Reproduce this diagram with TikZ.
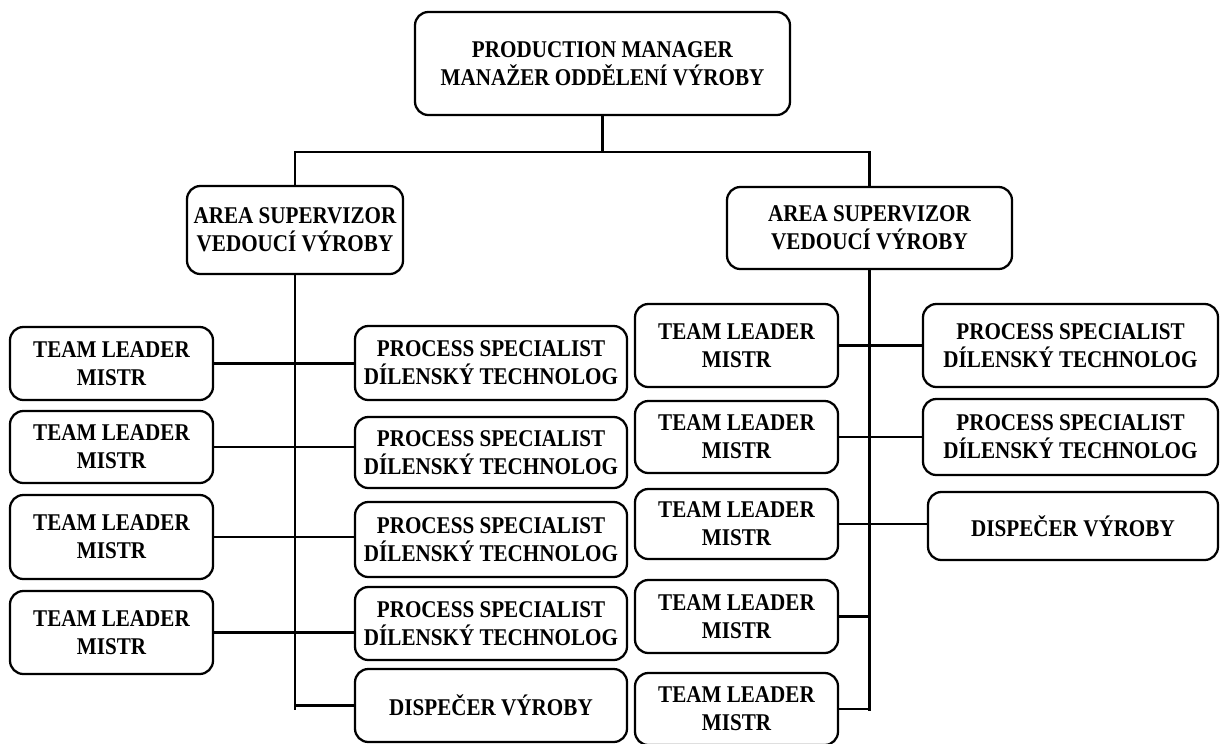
\documentclass[tikz,border=0pt]{standalone}
\usepackage{fontspec}
\setmainfont[FakeStretch=0.88]{Liberation Serif}

\tikzset{
  box/.style={draw, line width=1.7pt, rounded corners=10pt, align=center,
    inner sep=0pt, font=\fontsize{18}{20.8}\selectfont\bfseries},
  leader/.style={box, minimum width=152.25pt},
  specialist/.style={box, minimum width=204pt},
  conn/.style={line width=1.6pt}
}

\begin{document}
\begin{tikzpicture}
  [x=0.75pt, y=-0.75pt]
  \useasboundingbox (0,0) rectangle (1221,743);

	% top and area supervisors
	\node [box, minimum width=281.25pt, minimum height=77.25pt] (top) at (602.5,63.5)
		{PRODUCTION MANAGER\\MANAŽER ODDĚLENÍ VÝROBY};
	\node [box, minimum width=162pt, minimum height=66pt] (as1) at (295,230)
		{AREA SUPERVIZOR\\VEDOUCÍ VÝROBY};
	\node [box, minimum width=213.75pt, minimum height=61.5pt] (as2) at (869.5,228)
		{AREA SUPERVIZOR\\VEDOUCÍ VÝROBY};

	% left branch
	\node [leader, minimum height=54.75pt] (tlL1) at (111.5,363.5) {TEAM LEADER\\MISTR};
	\node [leader, minimum height=54pt] (tlL2) at (111.5,447) {TEAM LEADER\\MISTR};
	\node [leader, minimum height=63pt] (tlL3) at (111.5,537) {TEAM LEADER\\MISTR};
	\node [leader, minimum height=62.25pt] (tlL4) at (111.5,632.5) {TEAM LEADER\\MISTR};

	\node [specialist, minimum height=55.5pt] (psL1) at (491,363) {PROCESS SPECIALIST\\DÍLENSKÝ TECHNOLOG};
	\node [specialist, minimum height=53.25pt] (psL2) at (491,452.5) {PROCESS SPECIALIST\\DÍLENSKÝ TECHNOLOG};
	\node [specialist, minimum height=56.25pt] (psL3) at (491,539.5) {PROCESS SPECIALIST\\DÍLENSKÝ TECHNOLOG};
	\node [specialist, minimum height=54.75pt] (psL4) at (491,623.5) {PROCESS SPECIALIST\\DÍLENSKÝ TECHNOLOG};
	\node [specialist, minimum height=54.75pt] (dispL) at (491,705.5) {DISPEČER VÝROBY};

	% right branch
	\node [leader, minimum height=62.25pt] (tlR1) at (736.5,345.5) {TEAM LEADER\\MISTR};
	\node [leader, minimum height=54pt] (tlR2) at (736.5,437) {TEAM LEADER\\MISTR};
	\node [leader, minimum height=52.5pt] (tlR3) at (736.5,524) {TEAM LEADER\\MISTR};
	\node [leader, minimum height=54.75pt] (tlR4) at (736.5,616.5) {TEAM LEADER\\MISTR};
	\node [leader, minimum height=54pt] (tlR5) at (736.5,709) {TEAM LEADER\\MISTR};

	\node [box, minimum width=221.25pt, minimum height=62.25pt] (psR1) at (1070.5,345.5) {PROCESS SPECIALIST\\DÍLENSKÝ TECHNOLOG};
	\node [box, minimum width=221.25pt, minimum height=57pt] (psR2) at (1070.5,437) {PROCESS SPECIALIST\\DÍLENSKÝ TECHNOLOG};
	\node [box, minimum width=217.5pt, minimum height=51pt] (dispR) at (1073,526) {DISPEČER VÝROBY};

	% connectors
	\coordinate (bar) at (0,152);
	\coordinate (spineL) at (295,710);
	\coordinate (spineR) at (869.5,711);

	\draw [conn] (top.south) -- (top.south |- bar);
	\draw [conn] (as1.north) -- (as1.north |- bar) -- (as2.north |- bar) -- (as2.north);
	\draw [conn] (as1.south) -- (spineL);
	\draw [conn] (as2.south) -- (spineR);

	\foreach \i in {1,...,4}
		\draw [conn] (tlL\i.east) -- (tlL\i.east -| psL\i.west);
	\draw [conn] (dispL.west) -- (dispL.west -| spineL);

	\draw [conn] (tlR1.east) -- (tlR1.east -| psR1.west);
	\draw [conn] (tlR2.east) -- (tlR2.east -| psR2.west);
	\draw [conn] (tlR3.east) -- (tlR3.east -| dispR.west);
	\draw [conn] (tlR4.east) -- (tlR4.east -| spineR);
	\draw [conn] (tlR5.east) -- (tlR5.east -| spineR);
\end{tikzpicture}
\end{document}
